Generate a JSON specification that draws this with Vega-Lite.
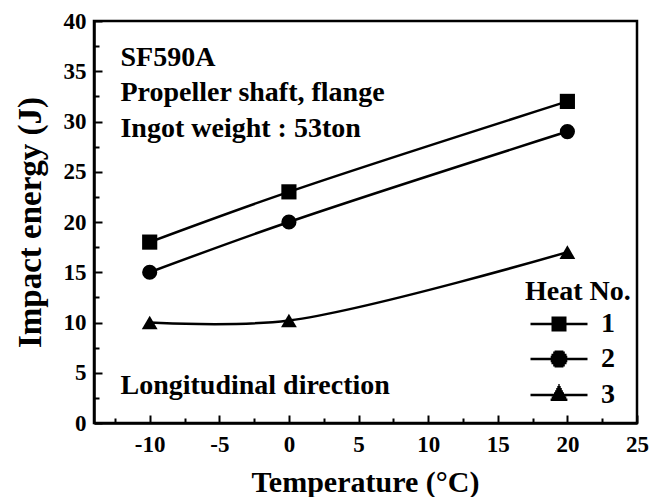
{
  "$schema": "https://vega.github.io/schema/vega-lite/v6.json",
  "autosize": {"type": "none"},
  "padding": {"left": 94, "top": 21, "right": 12, "bottom": 74},
  "width": 543,
  "height": 402,
  "config": {
    "font": "Liberation Serif",
    "view": {"stroke": "black", "strokeWidth": 2.5},
    "axis": {
      "grid": false,
      "domainColor": "black",
      "domainWidth": 2.5,
      "tickColor": "black",
      "tickWidth": 2,
      "labelFont": "Liberation Serif",
      "labelFontSize": 23,
      "labelFontWeight": "bold",
      "labelColor": "black",
      "labelOverlap": false,
      "labelFlush": false,
      "titleFont": "Liberation Serif",
      "titleFontSize": 30,
      "titleFontWeight": "bold",
      "titleColor": "black"
    }
  },
  "data": {
    "values": [
      {"heat": "1", "temp": -10, "energy": 18},
      {"heat": "1", "temp": 0, "energy": 23},
      {"heat": "1", "temp": 20, "energy": 32},
      {"heat": "2", "temp": -10, "energy": 15},
      {"heat": "2", "temp": 0, "energy": 20},
      {"heat": "2", "temp": 20, "energy": 29},
      {"heat": "3", "temp": -10, "energy": 10},
      {"heat": "3", "temp": 0, "energy": 10.2},
      {"heat": "3", "temp": 20, "energy": 17}
    ]
  },
  "encoding": {
    "x": {
      "field": "temp",
      "type": "quantitative",
      "scale": {"domain": [-14, 25], "nice": false, "zero": false},
      "axis": {
        "title": "Temperature (°C)",
        "values": [-12.5, -10, -7.5, -5, -2.5, 0, 2.5, 5, 7.5, 10, 12.5, 15, 17.5, 20, 22.5, 25],
        "labelExpr": "datum.value % 5 == 0 ? '' + datum.value : ''",
        "tickSize": {"condition": {"test": "datum.value % 5 == 0", "value": -8}, "value": -5},
        "labelPadding": 18,
        "titleX": 271,
        "titleY": 68,
        "titleBaseline": "alphabetic",
        "titleAnchor": "middle"
      }
    },
    "y": {
      "field": "energy",
      "type": "quantitative",
      "scale": {"domain": [0, 40], "nice": false},
      "axis": {
        "title": "Impact energy (J)",
        "titleFontSize": 33,
        "values": [0, 2.5, 5, 7.5, 10, 12.5, 15, 17.5, 20, 22.5, 25, 27.5, 30, 32.5, 35, 37.5, 40],
        "labelExpr": "datum.value % 5 == 0 ? '' + datum.value : ''",
        "tickSize": {"condition": {"test": "datum.value % 5 == 0", "value": -8}, "value": -5},
        "labelPadding": 16,
        "titleX": -64,
        "titleY": 201,
        "titleAngle": -90,
        "titleBaseline": "middle",
        "titleAlign": "center"
      }
    }
  },
  "layer": [
    {
      "mark": {"type": "line", "interpolate": "catmull-rom", "color": "black", "strokeWidth": 2.5},
      "encoding": {"detail": {"field": "heat", "type": "nominal"}}
    },
    {
      "transform": [{"filter": "datum.heat == '1'"}],
      "mark": {"type": "point", "shape": "square", "filled": true, "opacity": 1, "color": "black", "size": 230}
    },
    {
      "transform": [{"filter": "datum.heat == '2'"}],
      "mark": {"type": "point", "shape": "circle", "filled": true, "opacity": 1, "color": "black", "size": 230}
    },
    {
      "transform": [{"filter": "datum.heat == '3'"}],
      "mark": {"type": "point", "shape": "triangle-up", "filled": true, "opacity": 1, "color": "black", "size": 250}
    },
    {
      "transform": [{"filter": "datum.heat == 'none'"}],
      "mark": {"type": "point", "filled": false, "opacity": 1, "color": "black", "strokeWidth": 2.5, "size": 400},
      "encoding": {
        "shape": {
          "field": "heat",
          "type": "nominal",
          "scale": {
            "domain": ["1", "2", "3"],
            "range": [
              "M-2.85,0H2.85M-0.75,-0.62H0.75M-0.75,-0.41H0.75M-0.75,-0.2H0.75M-0.75,0.2H0.75M-0.75,0.41H0.75M-0.75,0.62H0.75",
              "M-2.85,0H2.85M-0.83,-0.2H0.83M-0.83,0.2H0.83M-0.75,-0.41H0.75M-0.75,0.41H0.75M-0.58,-0.62H0.58M-0.58,0.62H0.58M-0.44,-0.73H0.44M-0.44,0.73H0.44",
              "M-2.85,0H2.85M-0.84,0.48H0.84M-0.73,0.27H0.73M-0.61,0.06H0.61M-0.5,-0.15H0.5M-0.39,-0.36H0.39M-0.28,-0.57H0.28M-0.17,-0.78H0.17M-0.07,-0.97H0.07"
            ]
          },
          "legend": {
            "title": "Heat No.",
            "orient": "none",
            "legendX": 431,
            "legendY": 257,
            "padding": 0,
            "titleFont": "Liberation Serif",
            "titleFontSize": 28,
            "titleFontWeight": "bold",
            "titleColor": "black",
            "titlePadding": 4,
            "labelFont": "Liberation Serif",
            "labelFontSize": 28,
            "labelFontWeight": "bold",
            "labelColor": "black",
            "symbolSize": 400,
            "symbolOffset": 20,
            "labelOffset": 28,
            "rowPadding": 7,
            "symbolStrokeColor": "black",
            "symbolStrokeWidth": 2.5,
            "symbolOpacity": 1
          }
        }
      }
    },
    {
      "data": {
        "values": [
          {"label": "SF590A", "temp": -12.1, "energy": 36.3},
          {"label": "Propeller shaft, flange", "temp": -12.1, "energy": 32.8},
          {"label": "Ingot weight : 53ton", "temp": -12.1, "energy": 29.3},
          {"label": "Longitudinal direction", "temp": -12.1, "energy": 3.7}
        ]
      },
      "mark": {"type": "text", "align": "left", "baseline": "middle", "font": "Liberation Serif", "fontSize": 28, "fontWeight": "bold", "color": "black"},
      "encoding": {"text": {"field": "label"}}
    }
  ]
}
